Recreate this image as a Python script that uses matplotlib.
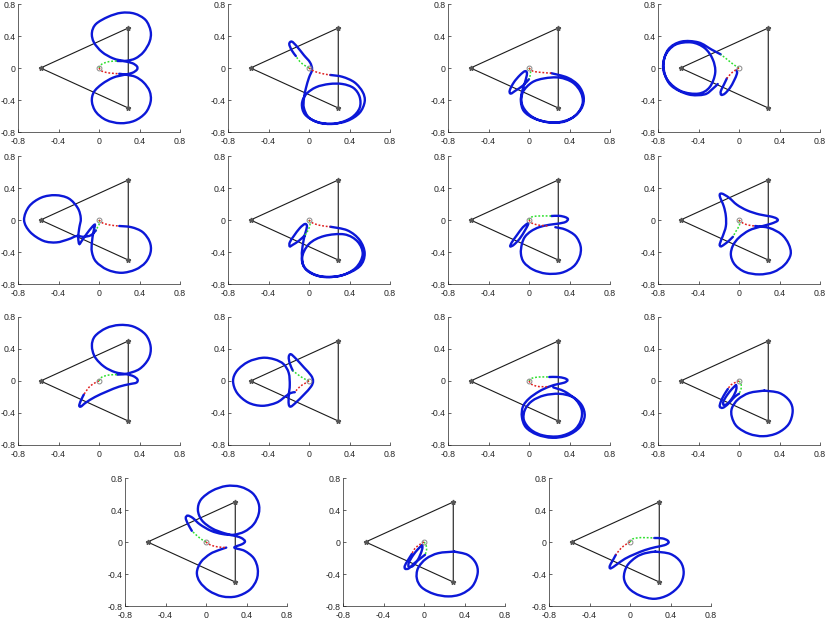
"""
    Fifteen panels: closed orbits (blue) around the three fixed bodies,
    with the first/last arcs (green / red) close to the origin
"""

import numpy as np
import matplotlib
matplotlib.use("Agg")
import matplotlib.pyplot as plt
from matplotlib.path import Path
from matplotlib.patches import PathPatch

# triangle of the three bodies and the centre
tri_x = [-0.577, 0.289, 0.289, -0.577]
tri_y = [0.0, 0.5, -0.5, 0.0]
ticks = [-0.8, -0.4, 0, 0.4, 0.8]
tick_labels = ["-0.8", "-0.4", "0", "0.4", "0.8"]

# ---- panel data (x, y) ----
p1_green = [(0, 0), (0.03, 0.05), (0.1, 0.08), (0.18, 0.088)]
p1_red = [(0, 0), (0.03, -0.04), (0.1, -0.062), (0.2, -0.072)]
p1_blue = [[(0.18, 0.088), (0.27, 0.09), (0.36, 0.12), (0.44, 0.2), (0.5, 0.33), (0.51, 0.46),
            (0.46, 0.6), (0.35, 0.68), (0.22, 0.69), (0.09, 0.64), (-0.03, 0.55), (-0.07, 0.44),
            (-0.05, 0.32), (0.03, 0.2), (0.14, 0.12), (0.25, 0.085), (0.33, 0.06), (0.375, 0.02),
            (0.375, -0.02), (0.33, -0.06), (0.25, -0.085), (0.14, -0.12), (0.03, -0.2), (-0.05, -0.3),
            (-0.07, -0.42), (-0.03, -0.55), (0.07, -0.65), (0.21, -0.69), (0.35, -0.66), (0.46, -0.56),
            (0.51, -0.42), (0.5, -0.29), (0.44, -0.18), (0.36, -0.11), (0.27, -0.085), (0.2, -0.072)]]

p2_green = [(0, 0), (-0.04, 0.03), (-0.09, 0.08), (-0.13, 0.15)]
p2_red = [(0, 0), (0.05, -0.04), (0.13, -0.07), (0.21, -0.087)]
p2_blue = [[(0.21, -0.087), (0.33, -0.11), (0.45, -0.18), (0.53, -0.3), (0.55, -0.42), (0.5, -0.56),
            (0.38, -0.66), (0.22, -0.7), (0.07, -0.67), (-0.04, -0.58), (-0.07, -0.45), (-0.03, -0.33),
            (0.07, -0.24), (0.2, -0.2), (0.33, -0.2), (0.44, -0.25), (0.5, -0.36), (0.5, -0.5),
            (0.42, -0.62), (0.28, -0.69), (0.12, -0.69), (0.0, -0.62), (-0.05, -0.5), (-0.05, -0.38),
            (-0.03, -0.25), (0.0, -0.12), (0.03, -0.02), (0.01, 0.07), (-0.05, 0.16), (-0.12, 0.27),
            (-0.17, 0.33), (-0.195, 0.3), (-0.17, 0.22), (-0.13, 0.15)]]

p3_green = [(0, 0), (0.015, -0.05), (0.01, -0.1), (0.0, -0.14)]
p3_red = [(0, 0), (0.04, -0.04), (0.12, -0.055), (0.22, -0.065)]
p3_blue = [[(0.0, -0.14), (-0.06, -0.22), (-0.13, -0.28), (-0.18, -0.32), (-0.19, -0.28), (-0.15, -0.18),
            (-0.09, -0.09), (-0.04, -0.04), (-0.02, -0.07), (-0.04, -0.18), (-0.07, -0.3), (-0.08, -0.42),
            (-0.05, -0.54), (0.05, -0.63), (0.2, -0.68), (0.35, -0.67), (0.47, -0.58), (0.53, -0.44),
            (0.51, -0.3), (0.43, -0.18), (0.3, -0.12), (0.15, -0.13), (0.03, -0.18), (-0.06, -0.3),
            (-0.07, -0.45), (0.0, -0.58), (0.12, -0.66), (0.28, -0.68), (0.43, -0.62), (0.52, -0.5),
            (0.54, -0.36), (0.49, -0.22), (0.38, -0.12), (0.22, -0.065)]]

p4_green = [(0, 0), (-0.05, 0.04), (-0.12, 0.11), (-0.18, 0.17)]
p4_red = [(0, 0), (-0.04, -0.03), (-0.08, -0.07), (-0.12, -0.13)]
p4_blue = [[(-0.18, 0.17), (-0.27, 0.23), (-0.4, 0.32), (-0.57, 0.33), (-0.7, 0.23), (-0.75, 0.02),
            (-0.7, -0.16), (-0.57, -0.29), (-0.4, -0.32), (-0.29, -0.24), (-0.235, -0.06), (-0.26, 0.11),
            (-0.34, 0.25), (-0.47, 0.32), (-0.63, 0.29), (-0.73, 0.15), (-0.74, -0.04), (-0.67, -0.22),
            (-0.5, -0.33), (-0.34, -0.33), (-0.26, -0.26), (-0.21, -0.2)],
           [(-0.12, -0.13), (-0.15, -0.21), (-0.18, -0.29), (-0.175, -0.335), (-0.14, -0.32),
            (-0.09, -0.25), (-0.05, -0.16), (-0.02, -0.07), (-0.025, -0.03)]]

p5_green = [(0, 0), (0.005, -0.04), (-0.01, -0.08), (-0.03, -0.13)]
p5_red = [(0, 0), (0.04, -0.04), (0.12, -0.065), (0.2, -0.075)]
p5_blue = [[(0.2, -0.075), (0.32, -0.09), (0.43, -0.15), (0.5, -0.27), (0.51, -0.4), (0.46, -0.53),
            (0.36, -0.62), (0.22, -0.66), (0.08, -0.62), (-0.03, -0.52), (-0.07, -0.4), (-0.07, -0.28),
            (-0.055, -0.15), (-0.04, -0.06), (-0.07, -0.09), (-0.12, -0.17), (-0.17, -0.26),
            (-0.195, -0.3), (-0.205, -0.22), (-0.195, -0.1), (-0.18, 0.02), (-0.21, 0.15), (-0.3, 0.27),
            (-0.43, 0.31), (-0.57, 0.28), (-0.69, 0.17), (-0.74, 0.0), (-0.68, -0.15), (-0.55, -0.26),
            (-0.42, -0.28), (-0.3, -0.24), (-0.22, -0.2), (-0.15, -0.21), (-0.08, -0.19), (-0.03, -0.13)]]

p6_green = [(0, 0), (0.01, -0.06), (-0.01, -0.13), (-0.04, -0.19)]
p6_red = [(0, 0), (0.04, -0.04), (0.12, -0.07), (0.21, -0.084)]
p6_blue = [[(-0.04, -0.19), (-0.1, -0.26), (-0.16, -0.31), (-0.19, -0.33), (-0.19, -0.28), (-0.15, -0.2),
            (-0.09, -0.1), (-0.04, -0.05), (-0.02, -0.08), (-0.04, -0.18), (-0.06, -0.3), (-0.07, -0.45),
            (-0.04, -0.6), (0.1, -0.7), (0.3, -0.7), (0.46, -0.6), (0.53, -0.43), (0.48, -0.27),
            (0.35, -0.18), (0.15, -0.2), (0.0, -0.3), (-0.07, -0.48), (-0.02, -0.63), (0.13, -0.71),
            (0.33, -0.69), (0.5, -0.58), (0.55, -0.42), (0.5, -0.25), (0.38, -0.13), (0.21, -0.084)]]

p7_green = [(0, 0), (0.02, 0.035), (0.09, 0.05), (0.22, 0.05)]
p7_red = [(0, 0), (0.03, -0.04), (0.1, -0.065), (0.2, -0.075)]
p7_blue = [[(0.22, 0.05), (0.3, 0.052), (0.36, 0.035), (0.385, 0.01), (0.36, -0.025), (0.29, -0.045),
            (0.2, -0.06), (0.1, -0.09), (0.02, -0.14), (-0.04, -0.21), (-0.07, -0.3), (-0.08, -0.42),
            (-0.05, -0.53), (0.04, -0.62), (0.17, -0.67), (0.32, -0.66), (0.44, -0.58), (0.5, -0.46),
            (0.51, -0.33), (0.46, -0.2), (0.36, -0.12), (0.26, -0.09)],
           [(-0.01, -0.04), (-0.06, -0.09), (-0.12, -0.19), (-0.17, -0.28), (-0.185, -0.33),
            (-0.15, -0.31), (-0.09, -0.23), (-0.04, -0.13), (-0.01, -0.06), (-0.01, -0.04)]]

p8_green = [(0, 0), (0.005, -0.06), (-0.03, -0.14), (-0.06, -0.21)]
p8_red = [(0, 0), (0.04, -0.04), (0.1, -0.065), (0.16, -0.075)]
p8_blue = [[(-0.06, -0.21), (-0.1, -0.26), (-0.15, -0.31), (-0.18, -0.33), (-0.19, -0.3), (-0.16, -0.2),
            (-0.13, -0.08), (-0.13, 0.05), (-0.15, 0.17), (-0.19, 0.3), (-0.17, 0.33), (-0.1, 0.28),
            (-0.02, 0.19), (0.08, 0.12), (0.2, 0.07), (0.31, 0.045), (0.37, 0.02), (0.38, -0.01),
            (0.32, -0.045), (0.22, -0.08), (0.1, -0.13), (0.0, -0.22), (-0.06, -0.32), (-0.08, -0.44),
            (-0.04, -0.56), (0.06, -0.65), (0.2, -0.68), (0.34, -0.65), (0.45, -0.56), (0.51, -0.43),
            (0.49, -0.3), (0.42, -0.18), (0.3, -0.1), (0.16, -0.075)]]

p9_green = [(0, 0), (0.03, 0.05), (0.1, 0.075), (0.18, 0.08)]
p9_red = [(0, 0), (-0.05, -0.03), (-0.1, -0.08), (-0.15, -0.17)]
p9_blue = [[(0.18, 0.08), (0.27, 0.09), (0.4, 0.15), (0.49, 0.28), (0.51, 0.43), (0.46, 0.58),
            (0.34, 0.68), (0.2, 0.7), (0.07, 0.66), (-0.04, 0.56), (-0.07, 0.44), (-0.04, 0.3),
            (0.05, 0.18), (0.16, 0.11), (0.27, 0.085), (0.34, 0.06), (0.38, 0.02), (0.37, -0.02),
            (0.3, -0.04), (0.2, -0.07), (0.08, -0.13), (-0.04, -0.2), (-0.13, -0.27), (-0.18, -0.32),
            (-0.195, -0.3), (-0.17, -0.22), (-0.15, -0.17)]]

p10_green = [(0, 0), (-0.05, 0.03), (-0.11, 0.08), (-0.16, 0.13)]
p10_red = [(0, 0), (-0.04, -0.03), (-0.09, -0.07), (-0.14, -0.14)]
p10_blue = [[(-0.16, 0.13), (-0.19, 0.22), (-0.2, 0.3), (-0.18, 0.335), (-0.13, 0.28), (-0.05, 0.17),
             (0.02, 0.07), (0.04, 0.0), (0.02, -0.07), (-0.05, -0.17), (-0.13, -0.27), (-0.18, -0.32),
             (-0.2, -0.29), (-0.2, -0.18), (-0.19, -0.05), (-0.2, 0.1), (-0.25, 0.21), (-0.34, 0.27),
             (-0.46, 0.29), (-0.6, 0.24), (-0.71, 0.13), (-0.75, 0.0), (-0.71, -0.15), (-0.6, -0.27),
             (-0.46, -0.31), (-0.32, -0.27), (-0.23, -0.19), (-0.18, -0.15), (-0.14, -0.14)]]

p11_green = [(0, 0), (0.03, 0.035), (0.1, 0.05), (0.2, 0.05)]
p11_red = [(0, 0), (0.03, -0.045), (0.1, -0.07), (0.2, -0.07)]
p11_blue = [[(0.2, 0.05), (0.28, 0.05), (0.35, 0.035), (0.38, 0.01), (0.35, -0.02), (0.28, -0.04),
             (0.2, -0.07), (0.1, -0.13), (0.0, -0.22), (-0.06, -0.32), (-0.07, -0.45), (-0.03, -0.58),
             (0.08, -0.67), (0.23, -0.71), (0.38, -0.68), (0.5, -0.58), (0.55, -0.44), (0.52, -0.3),
             (0.43, -0.2), (0.3, -0.16), (0.15, -0.18), (0.03, -0.25), (-0.04, -0.36), (-0.05, -0.49),
             (0.02, -0.61), (0.14, -0.68), (0.3, -0.69), (0.44, -0.62), (0.51, -0.5), (0.52, -0.36),
             (0.46, -0.23), (0.35, -0.13), (0.24, -0.08)]]

p12_green = [(0, 0), (0.02, -0.04), (0.02, -0.1), (0.0, -0.16)]
p12_red = [(0, 0), (-0.04, -0.02), (-0.08, -0.05), (-0.11, -0.1)]
p12_blue = [[(-0.11, -0.1), (-0.15, -0.18), (-0.18, -0.26), (-0.19, -0.32), (-0.16, -0.335),
             (-0.11, -0.29), (-0.06, -0.22), (-0.025, -0.18), (0.0, -0.16)],
            [(-0.03, -0.05), (-0.07, -0.1), (-0.12, -0.18), (-0.155, -0.26), (-0.15, -0.3),
             (-0.11, -0.28), (-0.06, -0.2), (-0.03, -0.12), (-0.025, -0.07), (-0.03, -0.05)],
            [(0.25, -0.12), (0.4, -0.15), (0.5, -0.25), (0.53, -0.38), (0.49, -0.54), (0.38, -0.65),
             (0.24, -0.69), (0.1, -0.66), (-0.02, -0.57), (-0.07, -0.45), (-0.07, -0.34), (-0.01, -0.23),
             (0.1, -0.15), (0.25, -0.12)]]

p13_green = [(0, 0), (-0.04, 0.03), (-0.09, 0.08), (-0.14, 0.14)]
p13_red = [(0, 0), (0.04, -0.035), (0.11, -0.06), (0.2, -0.07)]
p13_blue = [[(-0.14, 0.14), (-0.18, 0.23), (-0.2, 0.3), (-0.18, 0.33), (-0.13, 0.3), (-0.06, 0.22),
             (0.05, 0.14), (0.16, 0.1), (0.27, 0.09), (0.38, 0.13), (0.47, 0.22), (0.52, 0.35),
             (0.52, 0.48), (0.46, 0.61), (0.34, 0.69), (0.2, 0.7), (0.06, 0.64), (-0.05, 0.53),
             (-0.08, 0.4), (-0.04, 0.27), (0.06, 0.17), (0.18, 0.11), (0.29, 0.075), (0.35, 0.05),
             (0.385, 0.01), (0.36, -0.025), (0.28, -0.07), (0.38, -0.11), (0.47, -0.2), (0.51, -0.33),
             (0.5, -0.47), (0.43, -0.6), (0.3, -0.68), (0.16, -0.68), (0.03, -0.61), (-0.06, -0.5),
             (-0.09, -0.38), (-0.05, -0.25), (0.04, -0.15), (0.13, -0.1), (0.2, -0.07)]]

p14_green = [(0, 0), (0.02, -0.04), (0.025, -0.1), (0.01, -0.16)]
p14_red = [(0, 0), (-0.04, -0.03), (-0.09, -0.08), (-0.12, -0.15)]
p14_blue = [[(-0.12, -0.15), (-0.16, -0.23), (-0.19, -0.3), (-0.185, -0.335), (-0.15, -0.33),
             (-0.1, -0.27), (-0.05, -0.22), (-0.01, -0.18), (0.01, -0.16)],
            [(-0.02, -0.04), (-0.06, -0.09), (-0.11, -0.17), (-0.15, -0.26), (-0.15, -0.31),
             (-0.11, -0.3), (-0.06, -0.22), (-0.025, -0.12), (-0.015, -0.06), (-0.02, -0.04)],
            [(0.3, -0.12), (0.43, -0.16), (0.51, -0.26), (0.53, -0.39), (0.48, -0.55), (0.37, -0.65),
             (0.24, -0.68), (0.1, -0.65), (-0.02, -0.57), (-0.07, -0.46), (-0.06, -0.33), (0.02, -0.21),
             (0.14, -0.14), (0.3, -0.12)]]

p15_green = [(0, 0), (0.03, 0.04), (0.11, 0.055), (0.24, 0.05)]
p15_red = [(0, 0), (-0.04, -0.03), (-0.09, -0.08), (-0.14, -0.16)]
p15_blue = [[(0.24, 0.05), (0.32, 0.045), (0.37, 0.02), (0.38, -0.01), (0.34, -0.04), (0.25, -0.065),
             (0.15, -0.1), (0.05, -0.15), (-0.05, -0.21), (-0.13, -0.28), (-0.19, -0.33), (-0.2, -0.3),
             (-0.17, -0.23), (-0.14, -0.16)],
            [(0.25, -0.12), (0.4, -0.15), (0.5, -0.25), (0.53, -0.39), (0.49, -0.54), (0.38, -0.66),
             (0.24, -0.71), (0.1, -0.67), (-0.01, -0.58), (-0.06, -0.45), (-0.03, -0.3), (0.06, -0.19),
             (0.15, -0.14), (0.25, -0.12)]]

greens = [p1_green, p2_green, p3_green, p4_green, p5_green, p6_green, p7_green, p8_green,
          p9_green, p10_green, p11_green, p12_green, p13_green, p14_green, p15_green]
reds = [p1_red, p2_red, p3_red, p4_red, p5_red, p6_red, p7_red, p8_red,
        p9_red, p10_red, p11_red, p12_red, p13_red, p14_red, p15_red]
blues = [p1_blue, p2_blue, p3_blue, p4_blue, p5_blue, p6_blue, p7_blue, p8_blue,
         p9_blue, p10_blue, p11_blue, p12_blue, p13_blue, p14_blue, p15_blue]

# axes boxes in pixels: (left, top) of each panel
W, H = 830, 623
panel_px = [(18, 4), (228, 4), (448, 4), (658, 4),
            (18, 156), (228, 156), (448, 156), (658, 156),
            (18, 317), (228, 317), (448, 317), (658, 317),
            (125, 478), (343, 478), (549, 478)]
AW, AH = 162, 128


def smooth(pts):
    """Catmull-Rom curve through the points, as a matplotlib Path"""
    pts = np.asarray(pts, dtype=float)
    n = len(pts)
    verts, codes = [pts[0]], [Path.MOVETO]
    for i in range(n - 1):
        p0, p1 = pts[max(i - 1, 0)], pts[i]
        p2, p3 = pts[i + 1], pts[min(i + 2, n - 1)]
        verts += [p1 + (p2 - p0) / 6, p2 - (p3 - p1) / 6, p2]
        codes += [Path.CURVE4] * 3
    return Path(verts, codes)


fig = plt.figure(figsize=(W / 100, H / 100), dpi=100)
plt.rcParams['font.family'] = ['Liberation Sans', 'DejaVu Sans']

for k, (lx, ty) in enumerate(panel_px):
    ax = fig.add_axes([lx / W, (H - ty - AH) / H, AW / W, AH / H])
    ax.plot(tri_x, tri_y, color='#1a1a1a', lw=0.8, zorder=2)
    ax.plot(tri_x[:3], tri_y[:3], ls='none', marker='*', ms=3.5, color='#555555', zorder=3)
    for seg in blues[k]:
        ax.add_patch(PathPatch(smooth(seg), fill=False, ec='#0c18d8', lw=1.7,
                               capstyle='round', zorder=4))
    ax.add_patch(PathPatch(smooth(greens[k]), fill=False, ec='#2ee02e', lw=1.1,
                           ls=(0, (1.2, 1.2)), zorder=5))
    ax.add_patch(PathPatch(smooth(reds[k]), fill=False, ec='#e02020', lw=1.1,
                           ls=(0, (1.2, 1.2)), zorder=5))
    ax.plot([0], [0], marker='o', ms=3.5, mfc='none', mec='#888888', mew=0.7, zorder=6)

    ax.set_xlim(-0.8, 0.8)
    ax.set_ylim(-0.8, 0.8)
    ax.set_xticks(ticks)
    ax.set_yticks(ticks)
    ax.set_xticklabels(tick_labels)
    ax.set_yticklabels(tick_labels)
    ax.tick_params(direction='in', length=2, width=0.5, labelsize=6.3, colors='#262626')
    ax.tick_params(axis='x', pad=3.5)
    ax.tick_params(axis='y', pad=1.5)
    for side in ['top', 'right']:
        ax.spines[side].set_visible(False)
    for side in ['left', 'bottom']:
        ax.spines[side].set_linewidth(0.5)
        ax.spines[side].set_color('#262626')
    ax.patch.set_alpha(0)

fig.savefig("out.png", dpi=100)
